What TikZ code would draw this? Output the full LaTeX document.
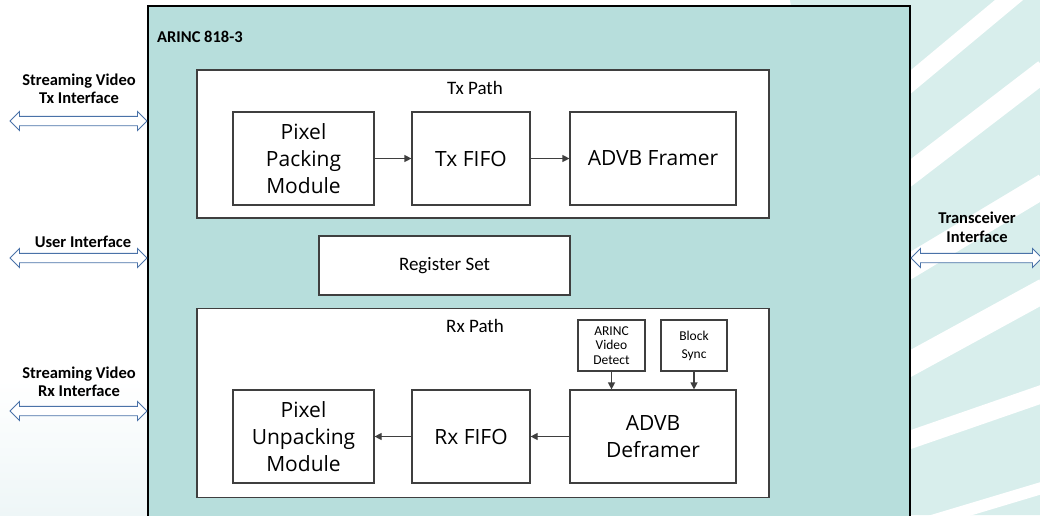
\documentclass[tikz,border=0pt]{standalone}
\usepackage{fontspec}
\setmainfont{Carlito}
\newfontfamily\blockfont{Open Sans}
\usepackage{tikz}
\usetikzlibrary{arrows.meta,calc}
\definecolor{corefill}{HTML}{B7DEDC}
\definecolor{edge}{HTML}{3F3F3F}
\definecolor{port}{HTML}{4A72A8}
\definecolor{wash}{HTML}{D8EEEC}
\definecolor{mist}{HTML}{EEF6F7}
\tikzset{
  block/.style={draw=edge, fill=white, line width=1.2pt, inner sep=0pt, align=center,
    font=\blockfont\fontsize{21}{27}\selectfont},
  group/.style={draw=edge, fill=white, line width=1.2pt, inner sep=0pt},
  tiny/.style={block, font=\fontsize{13.5}{14.5}\selectfont},
  title/.style={font=\fontsize{19}{22}\selectfont, inner sep=0pt},
  portlabel/.style={font=\bfseries\fontsize{16.5}{18.5}\selectfont, align=center, inner sep=0pt},
  flow/.style={draw=edge, line width=1.2pt, -{Triangle[length=7pt,width=7pt]}},
  iface/.style={draw=port, fill=white, line width=0.9pt,
    to path={let \p1=(\tikztostart), \p2=(\tikztotarget) in
      (\x1,\y1) -- (\x1+9.5pt,\y1+9.5pt) -- (\x1+9.5pt,\y1+4.7pt)
      -- (\x2-9.5pt,\y1+4.7pt) -- (\x2-9.5pt,\y1+9.5pt) -- (\x2,\y1)
      -- (\x2-9.5pt,\y1-9.5pt) -- (\x2-9.5pt,\y1-4.7pt)
      -- (\x1+9.5pt,\y1-4.7pt) -- (\x1+9.5pt,\y1-9.5pt) -- cycle}},
}

\begin{document}
\begin{tikzpicture}[x=1pt,y=-1pt]
  \useasboundingbox (0,0) rectangle (1040,515);

  % background wash
  \shade[top color=white, bottom color=mist] (0,380) rectangle (150,515);
  \fill[wash] (790,0) -- (1040,0) -- (1040,515) -- (880,515) -- cycle;
  \foreach \ya/\yb/\w in {95/-30/18, 185/70/22, 275/185/24, 372/290/24, 445/393/18, 532/487/12}
    \draw[white, line width=\w pt] (895,\ya) -- (1045,\yb);

  % the core
  \node[draw=black, fill=corefill, line width=2pt, inner sep=0pt,
        minimum width=762pt, minimum height=524pt] (core) at (529,268) {};
  \node[portlabel, anchor=base west] (corename) at (157,42) {ARINC 818-3};

  % tx path
  \node[group, minimum width=572pt, minimum height=148pt] (txpath) at (483,144) {};
  \node[title] (txtitle) at (475,88) {Tx Path};
  \node[block, minimum width=141pt, minimum height=93pt] (pack) at (303.5,158.5) {Pixel\\Packing\\Module};
  \node[block, minimum width=118pt, minimum height=93pt] (txfifo) at (471,158.5) {Tx FIFO};
  \node[block, minimum width=166pt, minimum height=93pt] (framer) at (653,158.5) {ADVB Framer};

  \node[block, title, minimum width=251pt, minimum height=59pt] (regset) at (444.5,265.5) {Register Set};

  % rx path
  \node[group, minimum width=572pt, minimum height=189pt] (rxpath) at (483,403) {};
  \node[title] (rxtitle) at (475,326) {Rx Path};
  \node[tiny, minimum width=67pt, minimum height=51pt] (detect) at (611.5,345.5) {ARINC\\Video\\Detect};
  \node[tiny, minimum width=66pt, minimum height=51pt, font=\fontsize{13.5}{18}\selectfont] (bsync) at (694,345.5) {Block\\Sync};
  \node[block, minimum width=166pt, minimum height=93pt] (deframer) at (653,436.5) {ADVB\\Deframer};
  \node[block, minimum width=118pt, minimum height=93pt] (rxfifo) at (471,436.5) {Rx FIFO};
  \node[block, minimum width=141pt, minimum height=93pt] (unpack) at (303.5,436.5) {Pixel\\Unpacking\\Module};

  \draw[flow] (pack) -- (txfifo);
  \draw[flow] (txfifo) -- (framer);
  \draw[flow] (detect) -- (detect |- deframer.north);
  \draw[flow] (bsync) -- (bsync |- deframer.north);
  \draw[flow] (deframer) -- (rxfifo);
  \draw[flow] (rxfifo) -- (unpack);

  % outside interfaces
  \coordinate (txport) at (10,121);
  \coordinate (userport) at (10,258);
  \coordinate (rxport) at (10,411);
  \coordinate (xcvrport) at (1042,258);

  \draw[iface] (txport) to (txport -| core.west);
  \draw[iface] (userport) to (userport -| core.west);
  \draw[iface] (rxport) to (rxport -| core.west);
  \draw[iface] (xcvrport -| core.east) to (xcvrport);

  \node[portlabel] (txlabel) at (79,89) {Streaming Video\\Tx Interface};
  \node[portlabel] (userlabel) at (83,242) {User Interface};
  \node[portlabel] (rxlabel) at (79,382) {Streaming Video\\Rx Interface};
  \node[portlabel] (xcvrlabel) at (977,227.5) {Transceiver\\Interface};
\end{tikzpicture}
\end{document}
